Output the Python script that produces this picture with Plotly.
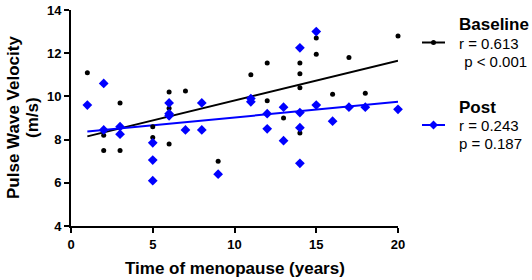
import plotly.graph_objects as go

# Baseline (black circles)
base_x = [1, 2, 2, 3, 3, 5, 5, 6, 6, 6, 7, 9, 11, 12, 12, 13, 14, 14, 14, 14, 15, 15, 16, 17, 18, 20]
base_y = [11.1, 8.2, 7.5, 9.7, 7.5, 8.6, 8.1, 10.2, 9.45, 7.8, 10.25, 7.0, 11.0, 11.55, 9.8, 9.0,
          11.55, 11.05, 10.4, 8.3, 12.7, 11.95, 10.1, 11.8, 10.15, 12.8]

# Post (blue diamonds)
post_x = [1, 2, 2, 3, 3, 5, 5, 5, 6, 6, 6, 7, 8, 8, 9, 11, 11, 12, 12, 13, 13, 14, 14, 14, 14,
          15, 15, 16, 17, 18, 20]
post_y = [9.6, 10.6, 8.45, 8.6, 8.25, 7.85, 7.05, 6.1, 9.7, 9.2, 9.1, 8.45, 9.7, 8.45, 6.4, 9.9,
          9.75, 9.2, 8.5, 9.5, 7.95, 12.25, 9.25, 8.55, 6.9, 13.0, 9.6, 8.85, 9.5, 9.5, 9.4]

# Regression lines
fit_x = [1, 20]
base_fit = [8.15, 11.65]
post_fit = [8.37, 9.75]

series_names = ["Baseline", "Post"]
series_stats = [["r = 0.613", "\u00a0p &lt; 0.001"], ["r = 0.243", "p = 0.187"]]
x_title = "Time of menopause (years)"
y_title = ["Pulse Wave Velocity", "(m/s)"]

BLUE = "#0000FF"
W, H = 532, 280
ML, MR, MT, MB = 71, 134, 10, 54
PW, PH = W - ML - MR, H - MT - MB


def px(x):
    return (x - ML) / PW


def py(y):
    return (H - MB - y) / PH


fig = go.Figure()
fig.add_trace(go.Scatter(x=fit_x, y=base_fit, mode="lines", line=dict(color="black", width=2),
                         showlegend=False, hoverinfo="skip"))
fig.add_trace(go.Scatter(x=fit_x, y=post_fit, mode="lines", line=dict(color=BLUE, width=2),
                         showlegend=False, hoverinfo="skip"))
fig.add_trace(go.Scatter(x=base_x, y=base_y, mode="markers", marker=dict(color="black", size=5),
                         showlegend=False, cliponaxis=False, name=series_names[0]))
fig.add_trace(go.Scatter(x=post_x, y=post_y, mode="markers",
                         marker=dict(color=BLUE, size=7.5, symbol="diamond"),
                         showlegend=False, cliponaxis=False, name=series_names[1]))

axis_common = dict(showline=True, linecolor="black", linewidth=2, ticks="outside", ticklen=5,
                   tickwidth=2, tickcolor="black", showgrid=False, zeroline=False, automargin=False,
                   tickfont=dict(family="Arial", size=13, color="black", weight="bold"))

annotations = []
shapes = []
# axis titles
annotations.append(dict(text="<b>%s</b>" % x_title, xref="paper", yref="paper", x=0.5, y=py(268),
                        xanchor="center", yanchor="middle", showarrow=False,
                        font=dict(size=17, family="Arial")))
for txt, xx in zip(y_title, (13, 32)):
    annotations.append(dict(text="<b>%s</b>" % txt, xref="paper", yref="paper", x=px(xx), y=0.5,
                            xanchor="center", yanchor="middle",
                            textangle=-90, showarrow=False, font=dict(size=17, family="Arial")))

# custom legend
legend_rows = [(25, 42.5, 43.5, 61), (107, 125, 126, 143)]
legend_stat_x = [[459, 460], [459, 459]]
colors = ["black", BLUE]
for i, (ty, ly, r_y, p_y) in enumerate(legend_rows):
    annotations.append(dict(text="<b>%s</b>" % series_names[i], xref="paper", yref="paper",
                            x=px(457), y=py(ty), xanchor="left", yanchor="middle", showarrow=False,
                            font=dict(size=17, family="Arial")))
    for txt, yy, xx in zip(series_stats[i], (r_y, p_y), legend_stat_x[i]):
        annotations.append(dict(text=txt, xref="paper", yref="paper", x=px(xx - 2), y=py(yy),
                                xanchor="left", yanchor="middle", showarrow=False,
                                font=dict(size=15, family="Arial")))
    shapes.append(dict(type="line", xref="paper", yref="paper", x0=px(422), x1=px(445),
                       y0=py(ly), y1=py(ly), line=dict(color=colors[i], width=2)))
    cx, cy = 433.5, ly
    if i == 0:
        shapes.append(dict(type="circle", xref="paper", yref="paper", x0=px(cx - 2.5), x1=px(cx + 2.5),
                           y0=py(cy - 2.5), y1=py(cy + 2.5), fillcolor="black", line=dict(width=0)))
    else:
        d = 4.5
        path = "M %f %f L %f %f L %f %f L %f %f Z" % (
            px(cx - d), py(cy), px(cx), py(cy - d), px(cx + d), py(cy), px(cx), py(cy + d))
        shapes.append(dict(type="path", xref="paper", yref="paper", path=path, fillcolor=BLUE,
                           line=dict(width=0)))

fig.update_layout(
    width=W, height=H,
    margin=dict(l=ML, r=MR, t=MT, b=MB),
    plot_bgcolor="white", paper_bgcolor="white",
    font=dict(family="Arial", color="black"),
    xaxis=dict(range=[0, 20], tickvals=[0, 5, 10, 15, 20], **axis_common),
    yaxis=dict(range=[4, 14], tickvals=[4, 6, 8, 10, 12, 14], **axis_common),
    annotations=annotations,
    shapes=shapes,
    showlegend=False,
)
fig.write_html("out.html", config={"displayModeBar": False},
               post_script="document.body.style.margin='0';")
